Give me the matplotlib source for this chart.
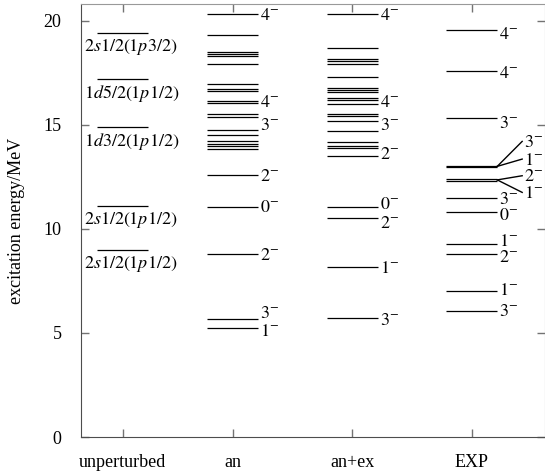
import matplotlib
matplotlib.use("Agg")
import matplotlib.pyplot as plt

plt.rcParams['font.family'] = ['Liberation Serif', 'DejaVu Serif']
plt.rcParams['mathtext.fontset'] = 'stix'
plt.rcParams['font.size'] = 13

# columns
columns = ["unperturbed", "an", "an+ex", "EXP"]

# unperturbed configurations (MeV)
unpert_E = [19.4, 17.2, 14.9, 11.1, 9.0]
unpert_txt = [r"$2s1/2(1p3/2)$", r"$1d5/2(1p1/2)$", r"$1d3/2(1p1/2)$",
              r"$2s1/2(1p1/2)$", r"$2s1/2(1p1/2)$"]

# an levels
an_E = [20.3, 19.3, 18.5, 18.4, 18.3, 17.9, 16.95, 16.72, 16.62, 16.15, 16.04,
        15.5, 15.38, 14.76, 14.52, 14.2, 14.08, 13.96, 13.83, 12.6, 11.07,
        8.8, 5.66, 5.23]
an_lab = ["4", "4", "3", "2", "0", "2", "3", "1"]
an_lab_E = [20.3, 16.1, 15.0, 12.55, 11.07, 8.75, 5.98, 5.1]

# an+ex levels
anex_E = [20.3, 18.7, 18.15, 18.05, 17.9, 17.3, 16.75, 16.65, 16.55, 16.3,
          16.2, 16.0, 15.5, 15.4, 15.2, 14.7, 14.15, 14.0, 13.9, 13.5, 11.06,
          10.5, 8.16, 5.7]
anex_lab = ["4", "4", "3", "2", "0", "2", "1", "3"]
anex_lab_E = [20.3, 16.1, 15.0, 13.6, 11.2, 10.3, 8.15, 5.65]

# experiment
exp_E = [19.57, 17.6, 15.3, 13.0, 12.97, 12.38, 12.3, 11.46, 10.83, 9.28,
         8.78, 7.03, 6.06]
exp_lab = ["4", "4", "3", "3", "0", "1", "2", "1", "3"]
exp_lab_E = [19.4, 17.5, 15.1, 11.44, 10.67, 9.45, 8.68, 7.07, 6.1]
# crowded levels labelled through short connector lines
fan_lab = ["3", "1", "2", "1"]
fan_from = [13.0, 13.0, 12.35, 12.35]
fan_to = [14.2, 13.35, 12.55, 11.75]

# layout
xpos = [0.36, 1.31, 2.34, 3.37]
hw = 0.22
dy = 0.27  # numeral half height in MeV

fig = plt.figure(figsize=(5.45, 4.75), dpi=100)
ax = fig.add_axes([0.1486, 0.08, 0.851, 0.9116])


def levels(x, E, lab=None, lab_E=None):
    ax.hlines(E, x - hw, x + hw, color="k", lw=0.9)
    if lab is not None:
        for t, e in zip(lab, lab_E):
            ax.text(x + hw + 0.015, e - dy, "$%s^{-}$" % t, ha="left",
                    va="baseline", fontsize=13)


# unperturbed
ax.hlines(unpert_E, xpos[0] - hw, xpos[0] + hw, color="k", lw=0.9)
for e, t in zip(unpert_E, unpert_txt):
    ax.text(0.03, e - 0.2, t, ha="left", va="top", fontsize=13)

levels(xpos[1], an_E, an_lab, an_lab_E)
levels(xpos[2], anex_E, anex_lab, anex_lab_E)
levels(xpos[3], exp_E, exp_lab, exp_lab_E)

x0 = xpos[3] + hw
for t, e0, e1 in zip(fan_lab, fan_from, fan_to):
    ax.plot([x0, x0 + 0.215], [e0, e1], color="k", lw=1.0)
    ax.text(x0 + 0.235, e1 - dy, "$%s^{-}$" % t, ha="left", va="baseline",
            fontsize=13)

ax.set_xlim(0, 4.0)
ax.set_ylim(0, 20.8)
ax.set_xticks(xpos)
ax.set_xticklabels(columns)
ax.set_yticks([0, 5, 10, 15, 20])
ax.set_ylabel("excitation energy/MeV", labelpad=13)

ax.tick_params(direction="in", length=6, top=True, right=True,
               color="0.45", width=1)
ax.tick_params(axis="y", pad=14)
ax.tick_params(axis="x", pad=12)
for s in ["left", "bottom"]:
    ax.spines[s].set_color("0.3")
for s in ["top", "right"]:
    ax.spines[s].set_color("0.6")

fig.savefig("out.png", dpi=100)
